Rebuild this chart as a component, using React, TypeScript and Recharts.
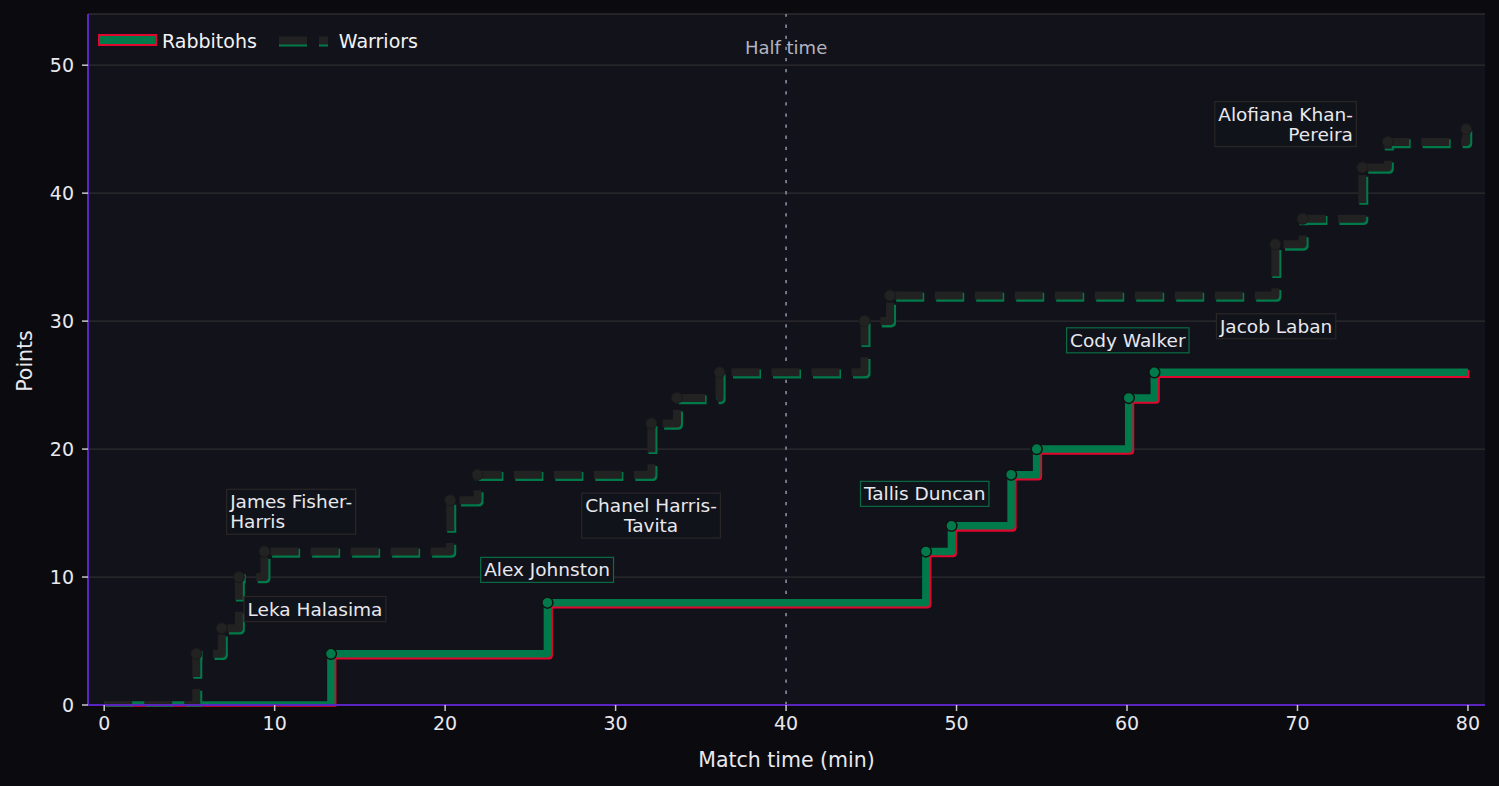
import React from 'react';
import {
  ComposedChart,
  Line,
  XAxis,
  YAxis,
  CartesianGrid,
  ReferenceLine,
  ReferenceDot,
  Legend,
  Label,
} from 'recharts';

// ---- data ----
const rabbitohsTimes = [0, 13.3, 26.0, 48.2, 49.7, 53.2, 54.7, 60.1, 61.6, 80];
const rabbitohsScores = [0, 4, 8, 12, 14, 18, 20, 24, 26, 26];

const warriorsTimes = [0, 5.4, 6.9, 7.9, 9.4, 20.3, 21.9, 32.1, 33.6, 36.1, 44.6, 46.1, 68.7, 70.3, 73.8, 75.3, 79.9];
const warriorsScores = [0, 4, 6, 10, 12, 16, 18, 22, 24, 26, 30, 32, 36, 38, 42, 44, 45];

const xTicks = [0, 10, 20, 30, 40, 50, 60, 70, 80];
const yTicks = [0, 10, 20, 30, 40, 50];

const annotationTexts = [
  'James Fisher-\nHarris',
  'Leka Halasima',
  'Alex Johnston',
  'Chanel Harris-\nTavita',
  'Tallis Duncan',
  'Cody Walker',
  'Jacob Laban',
  'Alofiana Khan-\nPereira',
];
const annotationX = [7.39, 8.41, 22.29, 32.08, 44.57, 56.66, 65.45, 73.25];
const annotationY = [15.1, 7.5, 10.56, 14.8, 16.5, 28.5, 29.6, 45.4];
const annotationAlign = ['left', 'left', 'left', 'center', 'left', 'left', 'left', 'right'];
const annotationTeam = ['Warriors', 'Warriors', 'Rabbitohs', 'Warriors', 'Rabbitohs', 'Rabbitohs', 'Warriors', 'Warriors'];

// ---- styles ----
const GREEN = '#007a4b';
const RED = '#e0062e';
const DARK = '#222222';
const PURPLE = '#5b25c2';
const BG_OUTER = '#0b0b0f';
const BG_PLOT = '#12131a';
const TEXT = '#e8e8ee';

const rabbitohsData = rabbitohsTimes.map((t, i) => ({
  t,
  v: rabbitohsScores[i],
  mark: i > 0 && rabbitohsScores[i] !== rabbitohsScores[i - 1],
}));
const warriorsData = warriorsTimes.map((t, i) => ({
  t,
  v: warriorsScores[i],
  mark: i > 0 && warriorsScores[i] !== warriorsScores[i - 1],
}));

let measureCtx: CanvasRenderingContext2D | null = null;
function measure(text: string, size: number): number {
  try {
    if (!measureCtx) {
      const c = document.createElement('canvas');
      measureCtx = c.getContext('2d');
    }
    if (measureCtx) {
      measureCtx.font = `${size}px "DejaVu Sans"`;
      return measureCtx.measureText(text).width;
    }
  } catch (e) {
    // ignore
  }
  return text.length * size * 0.6;
}

const rabbitohDot = (p: any) =>
  p.payload && p.payload.mark ? (
    <circle key={`rd${p.index}`} cx={p.cx} cy={p.cy} r={5.5} fill={GREEN} stroke="#111111" strokeWidth={1.5} />
  ) : (
    <g key={`rd${p.index}`} />
  );

const warriorDot = (p: any) =>
  p.payload && p.payload.mark ? (
    <circle key={`wd${p.index}`} cx={p.cx} cy={p.cy} r={5.5} fill={DARK} stroke="#1a1a1a" strokeWidth={1} />
  ) : (
    <g key={`wd${p.index}`} />
  );

const FS_ANNO = 18.5;

const makeAnno = (i: number) => (props: any) => {
  const vb = props.viewBox || {};
  const cx = (vb.x || 0) + (vb.width || 0) / 2;
  const cy = (vb.y || 0) + (vb.height || 0) / 2;
  const lines = annotationTexts[i].split('\n');
  const widths = lines.map((l) => measure(l, FS_ANNO));
  const maxW = Math.max(...widths);
  const lh = 20;
  const padX = 3.5;
  const padY = 2.5;
  const h = lines.length * lh + padY * 2;
  const align = annotationAlign[i];
  let bx = cx - padX;
  let anchor: 'start' | 'middle' | 'end' = 'start';
  if (align === 'center') {
    bx = cx - maxW / 2 - padX;
    anchor = 'middle';
  } else if (align === 'right') {
    bx = cx - maxW - padX;
    anchor = 'end';
  }
  const border = annotationTeam[i] === 'Rabbitohs' ? '#0b6b45' : '#2a2626';
  return (
    <g>
      <rect x={bx} y={cy - h / 2} width={maxW + padX * 2} height={h} fill={BG_PLOT} fillOpacity={0.95} stroke={border} strokeWidth={1.2} />
      {lines.map((l, k) => (
        <text
          key={k}
          x={cx}
          y={cy - ((lines.length - 1) * lh) / 2 + k * lh}
          textAnchor={anchor}
          dominantBaseline="central"
          fill={TEXT}
          fontSize={FS_ANNO}
          fontFamily='"DejaVu Sans"'
        >
          {l}
        </text>
      ))}
    </g>
  );
};

const renderLegend = () => (
  <div style={{ display: 'flex', alignItems: 'center', color: '#f2f2f2', fontSize: 19, fontFamily: '"DejaVu Sans"', lineHeight: '24px', whiteSpace: 'nowrap' }}>
    <svg width={60} height={14} style={{ display: 'block' }}>
      <rect x={1} y={1} width={57} height={10} fill={GREEN} stroke={RED} strokeWidth={2} />
    </svg>
    <span style={{ marginLeft: 4 }}>Rabbitohs</span>
    <svg width={50} height={14} style={{ display: 'block', marginLeft: 22 }}>
      <line x1={0} y1={6.5} x2={49} y2={6.5} stroke={GREEN} strokeWidth={9} strokeDasharray="28 12" transform="translate(0,1.5)" />
      <line x1={0} y1={6.5} x2={49} y2={6.5} stroke={DARK} strokeWidth={8} strokeDasharray="28 12" />
    </svg>
    <span style={{ marginLeft: 10 }}>Warriors</span>
  </div>
);

const xLabel = (props: any) => {
  const vb = props.viewBox || {};
  return (
    <text x={vb.x + vb.width / 2} y={vb.y + 62} textAnchor="middle" fill={TEXT} fontSize={20.5} fontFamily='"DejaVu Sans"'>
      Match time (min)
    </text>
  );
};

const yLabel = () => (
  <text
    x={25}
    y={361}
    transform="rotate(-90, 25, 361)"
    textAnchor="middle"
    dominantBaseline="central"
    fill={TEXT}
    fontSize={20.5}
    fontFamily='"DejaVu Sans"'
  >
    Points
  </text>
);

const halfLabel = (props: any) => {
  const vb = props.viewBox || {};
  return (
    <text x={vb.x} y={54} textAnchor="middle" fill="#b4b4c0" fontSize={18} fontFamily='"DejaVu Sans"'>
      Half time
    </text>
  );
};

export default function App() {
  return (
    <div style={{ width: 1499, height: 786, background: BG_OUTER, fontFamily: '"DejaVu Sans"', position: 'relative' }}>
      <style>{`
        body { margin: 0; background: ${BG_OUTER}; }
        .shadow-line .recharts-line-curve { transform: translate(1.5px, 1.8px); }
      `}</style>
      <ComposedChart width={1499} height={786} margin={{ top: 14, right: 14, left: 0, bottom: 0 }}>
        <CartesianGrid vertical={false} stroke="#2c2c31" strokeWidth={1.3} fill={BG_PLOT} />
        <XAxis
          type="number"
          dataKey="t"
          domain={[-0.95, 81]}
          ticks={xTicks}
          height={81}
          tickSize={6}
          tickMargin={6}
          axisLine={{ stroke: PURPLE, strokeWidth: 2 }}
          tickLine={{ stroke: '#c8c8c8', strokeWidth: 1.5 }}
          tick={{ fill: TEXT, fontSize: 19, fontFamily: '"DejaVu Sans"' }}
          allowDataOverflow
        >
          <Label content={xLabel} />
        </XAxis>
        <YAxis
          type="number"
          dataKey="v"
          domain={[0, 54]}
          ticks={yTicks}
          width={88}
          tickSize={6}
          tickMargin={8}
          axisLine={{ stroke: PURPLE, strokeWidth: 2 }}
          tickLine={{ stroke: '#c8c8c8', strokeWidth: 1.5 }}
          tick={{ fill: TEXT, fontSize: 19, fontFamily: '"DejaVu Sans"' }}
          allowDataOverflow
        >
          <Label content={yLabel} />
        </YAxis>
        <Legend
          layout="horizontal"
          verticalAlign="middle"
          align="center"
          content={renderLegend}
          wrapperStyle={{ top: 29, left: 98, width: 'auto', height: 24 }}
        />
        <ReferenceLine x={40} stroke="#85859a" strokeWidth={1.7} strokeDasharray="3.3 7.8" label={halfLabel} />
        <Line
          data={rabbitohsData}
          dataKey="v"
          type="stepAfter"
          stroke={RED}
          strokeWidth={8}
          strokeLinejoin="round"
          className="shadow-line"
          dot={false}
          activeDot={false}
          isAnimationActive={false}
          legendType="none"
        />
        <Line
          data={rabbitohsData}
          dataKey="v"
          name="Rabbitohs"
          type="stepAfter"
          stroke={GREEN}
          strokeWidth={7.5}
          strokeLinejoin="round"
          dot={rabbitohDot}
          activeDot={false}
          isAnimationActive={false}
        />
        <Line
          data={warriorsData}
          dataKey="v"
          type="stepAfter"
          stroke={GREEN}
          strokeWidth={9}
          strokeDasharray="28 12"
          strokeLinejoin="round"
          className="shadow-line"
          dot={false}
          activeDot={false}
          isAnimationActive={false}
          legendType="none"
        />
        <Line
          data={warriorsData}
          dataKey="v"
          name="Warriors"
          type="stepAfter"
          stroke={DARK}
          strokeWidth={8}
          strokeDasharray="28 12"
          strokeLinejoin="round"
          dot={warriorDot}
          activeDot={false}
          isAnimationActive={false}
        />
        {annotationTexts.map((_, i) => (
          <ReferenceDot
            key={`a${i}`}
            x={annotationX[i]}
            y={annotationY[i]}
            r={0}
            fill="none"
            stroke="none"
            label={makeAnno(i)}
          />
        ))}
      </ComposedChart>
    </div>
  );
}
